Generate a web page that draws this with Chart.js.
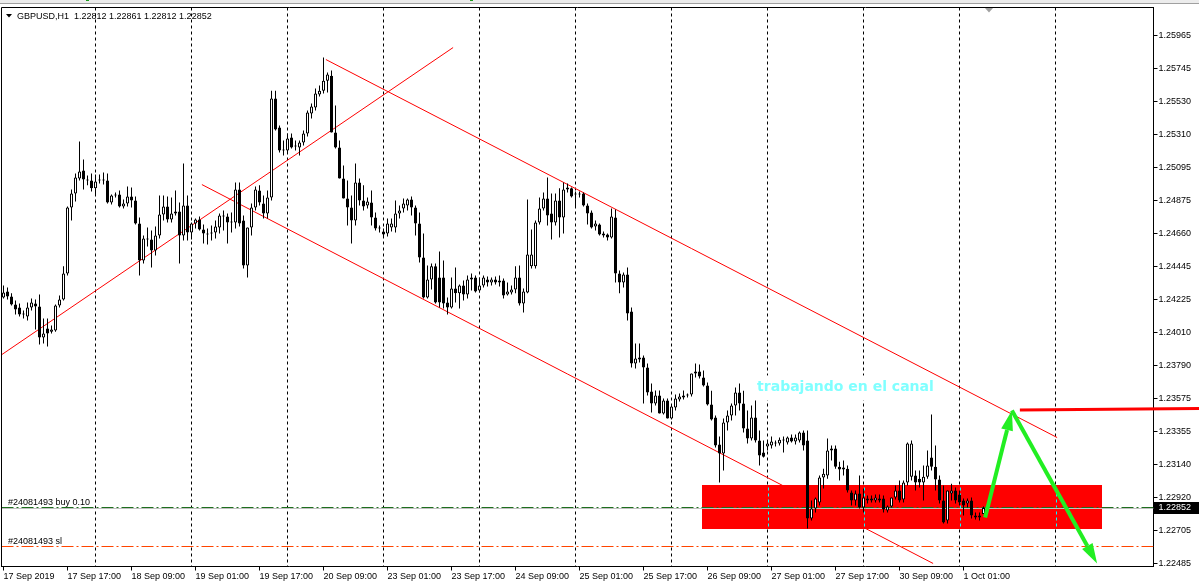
<!DOCTYPE html>
<html>
<head>
<meta charset="utf-8">
<script src="https://cdn.jsdelivr.net/npm/chart.js@4.4.1/dist/chart.umd.min.js"></script>
<style>
  html, body { margin: 0; padding: 0; background: #fff; overflow: hidden; }
  canvas { display: block; }
</style>
</head>
<body>
<canvas id="chart" width="1199" height="586"></canvas>
<script>
// GBPUSD H1 candles, 17 Sep 2019 01:00 .. 1 Oct 2019 06:00 (one per hour slot)
const open = [
  1.24239,1.24279,1.24246,1.24193,1.24173,1.24127,1.24114,1.24173,1.24199,1.24180,
  1.23975,1.24034,1.24013,1.24021,1.24186,1.24226,1.24397,1.24832,1.24925,1.25023,
  1.25076,1.25016,1.25010,1.24958,1.25010,1.25016,1.25010,1.24865,1.24911,1.24918,
  1.24838,1.24858,1.24905,1.24878,1.24726,1.24483,1.24628,1.24621,1.24549,1.24648,
  1.24786,1.24838,1.24753,1.24792,1.24806,1.24648,1.24845,1.24667,1.24726,1.24753,
  1.24687,1.24661,1.24661,1.24667,1.24700,1.24779,1.24773,1.24740,1.24733,1.24951,
  1.24746,1.24450,1.24700,1.24832,1.24944,1.24858,1.24792,1.24898,1.25550,1.25359,
  1.25214,1.25208,1.25293,1.25234,1.25227,1.25260,1.25320,1.25451,1.25491,1.25577,
  1.25602,1.25668,1.25701,1.25326,1.25227,1.25023,1.24891,1.24832,1.24746,1.24997,
  1.24878,1.24845,1.24865,1.24766,1.24700,1.24674,1.24661,1.24700,1.24700,1.24792,
  1.24825,1.24845,1.24885,1.24832,1.24726,1.24503,1.24239,1.24358,1.24444,1.24371,
  1.24371,1.24206,1.24173,1.24298,1.24266,1.24318,1.24259,1.24358,1.24371,1.24285,
  1.24318,1.24358,1.24338,1.24358,1.24338,1.24351,1.24259,1.24272,1.24292,1.24371,
  1.24199,1.24272,1.24444,1.24444,1.24733,1.24825,1.24891,1.24792,1.24733,1.24878,
  1.24766,1.24951,1.24958,1.24925,1.24918,1.24925,1.24845,1.24799,1.24707,1.24720,
  1.24661,1.24654,1.24635,1.24766,1.24397,1.24338,1.24391,1.24146,1.23804,1.23843,
  1.23843,1.23777,1.23619,1.23540,1.23593,1.23474,1.23560,1.23441,1.23514,1.23567,
  1.23580,1.23593,1.23600,1.23738,1.23751,1.23711,1.23659,1.23534,1.23448,1.23270,
  1.23210,1.23415,1.23461,1.23527,1.23612,1.23540,1.23375,1.23309,1.23448,1.23296,
  1.23217,1.23257,1.23263,1.23276,1.23276,1.23296,1.23283,1.23316,1.23289,1.23296,
  1.23349,1.23296,1.22782,1.22848,1.22888,1.23052,1.23065,1.23230,1.23243,1.23124,
  1.23105,1.23111,1.22954,1.22901,1.22947,1.22855,1.22901,1.22914,1.22901,1.22914,
  1.22914,1.22835,1.22861,1.22921,1.22967,1.22908,1.23019,1.23058,1.23065,1.23045,
  1.23019,1.23058,1.23184,1.23124,1.23039,1.22901,1.22769,1.22947,1.22967,1.22941,
  1.22901,1.22881,1.22901,1.22802,1.22802,1.22812
];
const high = [
  1.24318,1.24305,1.24266,1.24219,1.24199,1.24153,1.24206,1.24233,1.24226,1.24259,
  1.24100,1.24100,1.24054,1.24193,1.24252,1.24444,1.24838,1.24951,1.25056,1.25267,
  1.25149,1.25043,1.25056,1.25050,1.25050,1.25063,1.25056,1.24918,1.24931,1.24944,
  1.24885,1.24971,1.24964,1.24905,1.24766,1.24648,1.24700,1.24680,1.24707,1.24911,
  1.24911,1.24905,1.24898,1.24944,1.24865,1.25122,1.24911,1.24733,1.24759,1.24773,
  1.24720,1.24693,1.24713,1.24746,1.24792,1.24812,1.24792,1.24799,1.24997,1.24997,
  1.24779,1.24700,1.24858,1.24971,1.24978,1.24911,1.24944,1.25602,1.25602,1.25372,
  1.25274,1.25320,1.25320,1.25274,1.25274,1.25339,1.25471,1.25517,1.25616,1.25636,
  1.25820,1.25721,1.25734,1.25504,1.25274,1.25109,1.25010,1.24911,1.25122,1.25023,
  1.24978,1.24898,1.24944,1.24799,1.24713,1.24693,1.24759,1.24759,1.24878,1.24845,
  1.24891,1.24891,1.24905,1.24845,1.24799,1.24661,1.24450,1.24463,1.24463,1.24542,
  1.24483,1.24239,1.24371,1.24437,1.24325,1.24351,1.24384,1.24397,1.24384,1.24371,
  1.24384,1.24377,1.24371,1.24377,1.24384,1.24364,1.24338,1.24318,1.24444,1.24450,
  1.24298,1.24885,1.24687,1.24746,1.24898,1.24931,1.25030,1.24925,1.24925,1.24958,
  1.24997,1.24990,1.24964,1.24938,1.24938,1.24931,1.24858,1.24812,1.24746,1.24726,
  1.24674,1.24661,1.24825,1.24818,1.24417,1.24404,1.24437,1.24173,1.23936,1.23936,
  1.23856,1.23804,1.23672,1.23626,1.23626,1.23573,1.23573,1.23534,1.23600,1.23606,
  1.23626,1.23606,1.23738,1.23804,1.23797,1.23758,1.23678,1.23625,1.23461,1.23322,
  1.23441,1.23494,1.23540,1.23645,1.23672,1.23625,1.23494,1.23527,1.23560,1.23362,
  1.23296,1.23296,1.23322,1.23296,1.23316,1.23322,1.23322,1.23336,1.23336,1.23355,
  1.23362,1.23362,1.22901,1.22921,1.23065,1.23111,1.23309,1.23263,1.23263,1.23157,
  1.23164,1.23131,1.22967,1.22967,1.23065,1.22980,1.22934,1.22934,1.22941,1.22941,
  1.22934,1.22868,1.22921,1.22999,1.23032,1.23032,1.23283,1.23296,1.23098,1.23098,
  1.23131,1.23230,1.23468,1.23263,1.23065,1.22999,1.22967,1.23012,1.22987,1.22967,
  1.22914,1.22914,1.22921,1.22822,1.22822,1.22861
];
const low = [
  1.24233,1.24226,1.24186,1.24127,1.24114,1.24100,1.24087,1.24153,1.24028,1.23929,
  1.23936,1.23916,1.24002,1.24013,1.24173,1.24219,1.24384,1.24746,1.24871,1.25010,
  1.24951,1.24978,1.24938,1.24911,1.24990,1.24984,1.24858,1.24852,1.24898,1.24832,
  1.24825,1.24838,1.24832,1.24720,1.24384,1.24463,1.24575,1.24437,1.24516,1.24628,
  1.24746,1.24733,1.24733,1.24779,1.24463,1.24615,1.24615,1.24621,1.24693,1.24680,
  1.24595,1.24588,1.24615,1.24628,1.24661,1.24680,1.24595,1.24667,1.24693,1.24707,
  1.24430,1.24371,1.24648,1.24812,1.24845,1.24759,1.24759,1.24878,1.25339,1.25195,
  1.25175,1.25195,1.25221,1.25208,1.25175,1.25241,1.25300,1.25418,1.25471,1.25563,
  1.25583,1.25590,1.25326,1.25221,1.25023,1.24891,1.24713,1.24595,1.24713,1.24845,
  1.24812,1.24825,1.24713,1.24680,1.24667,1.24641,1.24641,1.24674,1.24667,1.24759,
  1.24799,1.24812,1.24779,1.24648,1.24470,1.24233,1.24233,1.24292,1.24199,1.24173,
  1.24166,1.24127,1.24166,1.24206,1.24166,1.24219,1.24233,1.24285,1.24272,1.24272,
  1.24305,1.24312,1.24318,1.24325,1.24312,1.24233,1.24252,1.24259,1.24266,1.24186,
  1.24140,1.24266,1.24430,1.24430,1.24720,1.24812,1.24713,1.24621,1.24713,1.24635,
  1.24661,1.24931,1.24898,1.24832,1.24898,1.24838,1.24720,1.24693,1.24680,1.24648,
  1.24635,1.24615,1.24628,1.24338,1.24266,1.24305,1.24087,1.23777,1.23771,1.23810,
  1.23540,1.23593,1.23481,1.23527,1.23474,1.23468,1.23441,1.23435,1.23494,1.23553,
  1.23567,1.23580,1.23586,1.23711,1.23705,1.23652,1.23527,1.23428,1.23250,1.23019,
  1.23098,1.23362,1.23428,1.23461,1.23494,1.23349,1.23276,1.23296,1.23283,1.23131,
  1.23184,1.23230,1.23243,1.23257,1.23263,1.23217,1.23270,1.23283,1.23270,1.23283,
  1.23230,1.22716,1.22769,1.22822,1.22868,1.22980,1.23045,1.23164,1.23111,1.23032,
  1.23065,1.22954,1.22868,1.22868,1.22848,1.22822,1.22881,1.22888,1.22888,1.22888,
  1.22822,1.22822,1.22855,1.22908,1.22888,1.22888,1.22999,1.23032,1.22967,1.22987,
  1.22901,1.23045,1.23098,1.22967,1.22881,1.22749,1.22749,1.22901,1.22881,1.22868,
  1.22802,1.22855,1.22782,1.22776,1.22769,1.22812
];
const close = [
  1.24272,1.24246,1.24193,1.24160,1.24127,1.24133,1.24173,1.24206,1.24180,1.23975,
  1.24002,1.24002,1.24028,1.24186,1.24226,1.24397,1.24832,1.24925,1.25030,1.25070,
  1.25016,1.25010,1.24958,1.25003,1.25016,1.25010,1.24865,1.24911,1.24918,1.24838,
  1.24858,1.24905,1.24878,1.24726,1.24483,1.24628,1.24621,1.24549,1.24648,1.24786,
  1.24838,1.24753,1.24792,1.24806,1.24648,1.24845,1.24667,1.24726,1.24753,1.24687,
  1.24661,1.24654,1.24667,1.24707,1.24779,1.24773,1.24733,1.24733,1.24951,1.24726,
  1.24450,1.24700,1.24832,1.24951,1.24865,1.24792,1.24898,1.25550,1.25346,1.25208,
  1.25208,1.25287,1.25227,1.25241,1.25260,1.25320,1.25458,1.25497,1.25583,1.25602,
  1.25668,1.25708,1.25326,1.25227,1.25023,1.24891,1.24832,1.24746,1.24997,1.24878,
  1.24838,1.24871,1.24766,1.24693,1.24693,1.24654,1.24726,1.24726,1.24792,1.24812,
  1.24858,1.24885,1.24832,1.24726,1.24503,1.24239,1.24358,1.24444,1.24206,1.24206,
  1.24199,1.24173,1.24298,1.24266,1.24318,1.24259,1.24358,1.24371,1.24279,1.24318,
  1.24371,1.24338,1.24358,1.24338,1.24351,1.24252,1.24279,1.24292,1.24371,1.24199,
  1.24279,1.24523,1.24523,1.24733,1.24825,1.24891,1.24779,1.24733,1.24878,1.24766,
  1.24951,1.24964,1.24905,1.24918,1.24925,1.24845,1.24792,1.24700,1.24726,1.24654,
  1.24648,1.24635,1.24773,1.24397,1.24338,1.24391,1.24133,1.23804,1.23837,1.23830,
  1.23777,1.23613,1.23540,1.23593,1.23474,1.23560,1.23441,1.23520,1.23573,1.23586,
  1.23593,1.23600,1.23738,1.23751,1.23718,1.23659,1.23534,1.23435,1.23263,1.23210,
  1.23415,1.23461,1.23527,1.23612,1.23540,1.23375,1.23309,1.23448,1.23296,1.23197,
  1.23190,1.23276,1.23289,1.23283,1.23302,1.23299,1.23316,1.23289,1.23316,1.23349,
  1.23263,1.22782,1.22848,1.22914,1.23052,1.23078,1.23230,1.23243,1.23124,1.23105,
  1.23118,1.22967,1.22901,1.22947,1.22855,1.22921,1.22914,1.22901,1.22921,1.22901,
  1.22842,1.22861,1.22921,1.22967,1.22901,1.23019,1.23276,1.23276,1.23019,1.23019,
  1.23058,1.23131,1.23124,1.23039,1.22901,1.22756,1.22967,1.22967,1.22901,1.22888,
  1.22868,1.22901,1.22802,1.22789,1.22789,1.22852
];

// axis setup
const slotCount = 288;               // hourly slots visible incl. shifted empty space
const yMin = 1.22466, yMax = 1.26150;
const yTicks = [1.25965,1.25745,1.25530,1.25310,1.25095,1.24875,1.24660,1.24445,1.24225,
                1.24010,1.23790,1.23575,1.23355,1.23140,1.22920,1.22705,1.22485];
const xTickIdx = [0,16,32,48,64,80,96,112,128,144,160,176,192,208,224,240];
const xTickLabels = ['17 Sep 2019','17 Sep 17:00','18 Sep 09:00','19 Sep 01:00','19 Sep 17:00',
  '20 Sep 09:00','23 Sep 01:00','23 Sep 17:00','24 Sep 09:00','25 Sep 01:00','25 Sep 17:00',
  '26 Sep 09:00','27 Sep 01:00','27 Sep 17:00','30 Sep 09:00','1 Oct 01:00'];
const daySeps = [23,47,71,95,119,143,167,191,215,239,263];

// drawn objects: [slot, price] pairs
const trendLines = [
  [[-0.4, 1.23863], [112.4, 1.25886]],
  [[49.6, 1.24983], [232.4, 1.22486]],
  [[80.6, 1.25807], [263.4, 1.23316]]
];
const zone = { from: 174.6, to: 274.5, top: 1.23000, bottom: 1.22716 };
const arrowUp = [[245.4, 1.22789], [252.1, 1.23494]];
const arrowDown = [[252.1, 1.23494], [273.4, 1.22486]];
const levelLine = [[254.1, 1.23497], [299, 1.23507]];
const note = { slot: 188.4, price: 1.23646, text: 'trabajando en el canal' };
const bidPrice = 1.22852;
const orderBuy = { price: 1.22859, label: '#24081493 buy 0.10' };
const orderSl = { price: 1.22600, label: '#24081493 sl' };

const slots = Array.from({length: slotCount}, (_, i) => i);
const wicks = low.map((l, i) => [l, high[i]]);
const bodies = open.map((o, i) => [Math.min(o, close[i]), Math.max(o, close[i])]);

const FONT = '"Liberation Sans", Arial, sans-serif';
Chart.defaults.font.family = FONT;
Chart.defaults.font.size = 9;
Chart.defaults.color = '#000';

function arrow(ctx, x1, y1, x2, y2, head, half){
  const dx = x2 - x1, dy = y2 - y1, len = Math.hypot(dx, dy);
  const ux = dx / len, uy = dy / len;
  const bx = x2 - ux * head, by = y2 - uy * head;
  ctx.beginPath(); ctx.moveTo(x1, y1); ctx.lineTo(bx, by); ctx.stroke();
  ctx.beginPath();
  ctx.moveTo(x2, y2);
  ctx.lineTo(bx - uy * half, by + ux * half);
  ctx.lineTo(bx + uy * half, by - ux * half);
  ctx.closePath(); ctx.fill();
}

const overlay = {
  id: 'overlay',
  beforeDraw(chart){
    const {ctx, width} = chart;
    ctx.save();
    ctx.fillStyle = '#fff'; ctx.fillRect(0, 0, width, chart.height);
    ctx.fillStyle = '#ececec'; ctx.fillRect(0, 0, width, 3);
    ctx.fillStyle = '#a0a0a0'; ctx.fillRect(0, 3, width, 1);
    ctx.fillStyle = '#1a9a1a'; ctx.fillRect(86, 0, 3, 1); ctx.fillRect(470, 0, 3, 1);
    ctx.restore();
  },
  beforeDatasetsDraw(chart){
    const {ctx, chartArea: a, scales: {x, y}} = chart;
    ctx.save();
    ctx.beginPath(); ctx.rect(a.left, a.top, a.right - a.left, a.bottom - a.top); ctx.clip();

    // text box hides the separators behind the note
    const nx = x.getPixelForValue(note.slot), ny = y.getPixelForValue(note.price);
    ctx.fillStyle = '#fff';
    ctx.fillRect(nx - 2, ny - 12, 182, 25);

    // trend lines
    ctx.strokeStyle = '#ff0000'; ctx.lineWidth = 1;
    trendLines.forEach(t => {
      ctx.beginPath();
      ctx.moveTo(x.getPixelForValue(t[0][0]), y.getPixelForValue(t[0][1]));
      ctx.lineTo(x.getPixelForValue(t[1][0]), y.getPixelForValue(t[1][1]));
      ctx.stroke();
    });

    // zone rectangle
    const zx1 = Math.round(x.getPixelForValue(zone.from)), zx2 = Math.round(x.getPixelForValue(zone.to));
    const zy1 = Math.round(y.getPixelForValue(zone.top)), zy2 = Math.round(y.getPixelForValue(zone.bottom));
    ctx.fillStyle = '#ff0000';
    ctx.fillRect(zx1, zy1, zx2 - zx1, zy2 - zy1);
    ctx.save();
    ctx.beginPath(); ctx.rect(zx1, zy1, zx2 - zx1, zy2 - zy1); ctx.clip();
    ctx.strokeStyle = '#00ffff'; ctx.setLineDash([3, 3]);
    daySeps.forEach(d => {
      const px = Math.round(x.getPixelForValue(d)) + 0.5;
      ctx.beginPath(); ctx.moveTo(px, a.top); ctx.lineTo(px, a.bottom); ctx.stroke();
    });
    ctx.restore();

    // bid line and order lines
    const by = Math.round(y.getPixelForValue(bidPrice)) + 0.5;
    ctx.strokeStyle = '#c0c0c0'; ctx.setLineDash([]);
    ctx.beginPath(); ctx.moveTo(a.left, by); ctx.lineTo(a.right, by); ctx.stroke();
    [[orderBuy, '#1e6e1e'], [orderSl, '#ff4500']].forEach(([o, col]) => {
      const oy = Math.round(y.getPixelForValue(o.price)) + 0.5;
      ctx.strokeStyle = col; ctx.setLineDash([12, 3, 2, 3]);
      ctx.beginPath(); ctx.moveTo(a.left, oy); ctx.lineTo(a.right, oy); ctx.stroke();
      ctx.setLineDash([]);
      ctx.fillStyle = '#000'; ctx.font = '9px ' + FONT; ctx.textBaseline = 'alphabetic';
      ctx.fillText(o.label, 8, oy - 3);
    });

    // note text
    ctx.fillStyle = '#80ffff'; ctx.font = 'bold 14px "DejaVu Sans", sans-serif'; ctx.textBaseline = 'middle';
    ctx.fillText(note.text, nx, ny);
    ctx.restore();
  },
  afterDatasetsDraw(chart){
    const {ctx, chartArea: a, scales: {x, y}} = chart;
    ctx.save();
    // arrows
    ctx.strokeStyle = '#22ee22'; ctx.fillStyle = '#22ee22'; ctx.lineWidth = 4; ctx.lineCap = 'butt';
    [arrowUp, arrowDown].forEach(ar => {
      arrow(ctx, x.getPixelForValue(ar[0][0]), y.getPixelForValue(ar[0][1]),
                 x.getPixelForValue(ar[1][0]), y.getPixelForValue(ar[1][1]), 20, 6);
    });
    // level line, runs over the price scale
    ctx.strokeStyle = '#ff0000'; ctx.lineWidth = 3;
    ctx.beginPath();
    ctx.moveTo(x.getPixelForValue(levelLine[0][0]), y.getPixelForValue(levelLine[0][1]));
    ctx.lineTo(x.getPixelForValue(levelLine[1][0]), y.getPixelForValue(levelLine[1][1]));
    ctx.stroke();

    // frame top/left
    ctx.strokeStyle = '#000'; ctx.lineWidth = 1;
    ctx.beginPath();
    ctx.moveTo(a.left, a.bottom); ctx.lineTo(a.left, a.top); ctx.lineTo(a.right, a.top);
    ctx.stroke();

    // symbol header
    const last = open.length - 1;
    ctx.fillStyle = '#000';
    ctx.beginPath(); ctx.moveTo(6, 14); ctx.lineTo(12, 14); ctx.lineTo(9, 17.5); ctx.closePath(); ctx.fill();
    ctx.font = '9px ' + FONT; ctx.textBaseline = 'alphabetic';
    ctx.fillText('GBPUSD,H1  ' + [open[last], high[last], low[last], close[last]].map(v => v.toFixed(5)).join(' '), 17, 19);

    // chart shift marker
    ctx.fillStyle = '#a0a0a0';
    ctx.beginPath(); ctx.moveTo(985, 8); ctx.lineTo(993, 8); ctx.lineTo(989, 12.5); ctx.closePath(); ctx.fill();

    // bid price tag
    const by = Math.round(y.getPixelForValue(bidPrice));
    ctx.fillStyle = '#000';
    ctx.fillRect(Math.round(a.right), by - 6, chart.width - Math.round(a.right), 12);
    ctx.fillStyle = '#fff'; ctx.textBaseline = 'middle';
    ctx.fillText(bidPrice.toFixed(5), a.right + 5, by);
    ctx.restore();
  }
};

new Chart(document.getElementById('chart'), {
  type: 'bar',
  data: {
    labels: slots,
    datasets: [
      {
        label: 'wick', data: wicks, order: 2, grouped: false,
        barThickness: 1, backgroundColor: '#000', borderWidth: 0, inflateAmount: 0
      },
      {
        label: 'body', data: bodies, order: 1, grouped: false,
        barThickness: 3, minBarLength: 1, inflateAmount: 0,
        backgroundColor: c => close[c.dataIndex] >= open[c.dataIndex] ? '#fff' : '#000',
        borderColor: '#000', borderWidth: 1, borderSkipped: false
      }
    ]
  },
  options: {
    responsive: false,
    devicePixelRatio: 1,
    animation: false,
    events: [],
    layout: { padding: { left: 1.5, top: 7.5, right: 0, bottom: 0 } },
    plugins: { legend: { display: false }, tooltip: { enabled: false } },
    scales: {
      x: {
        type: 'category',
        offset: true,
        afterFit: s => { s.height = 19.5; },
        grid: {
          offset: false,
          drawOnChartArea: true,
          drawTicks: true,
          tickLength: 4,
          color: c => daySeps.includes(c.index) ? '#000' : 'rgba(0,0,0,0)',
          tickColor: c => xTickIdx.includes(c.index) ? '#000' : 'rgba(0,0,0,0)'
        },
        border: { display: true, color: '#000', dash: [3, 3] },
        ticks: {
          autoSkip: false, maxRotation: 0, minRotation: 0, align: 'start', padding: 1,
          font: { size: 9 }, color: '#000',
          callback: (v, i) => { const k = xTickIdx.indexOf(i); return k >= 0 ? xTickLabels[k] : ''; }
        }
      },
      y: {
        position: 'right',
        min: yMin, max: yMax,
        afterFit: s => { s.width = 45.5; },
        afterBuildTicks: s => { s.ticks = yTicks.map(v => ({ value: v })); },
        grid: { drawOnChartArea: false, drawTicks: true, tickLength: 4, color: '#000' },
        border: { display: true, color: '#000' },
        ticks: { padding: 1, font: { size: 9 }, color: '#000', callback: v => Number(v).toFixed(5) }
      }
    }
  },
  plugins: [overlay]
});
</script>
</body>
</html>
